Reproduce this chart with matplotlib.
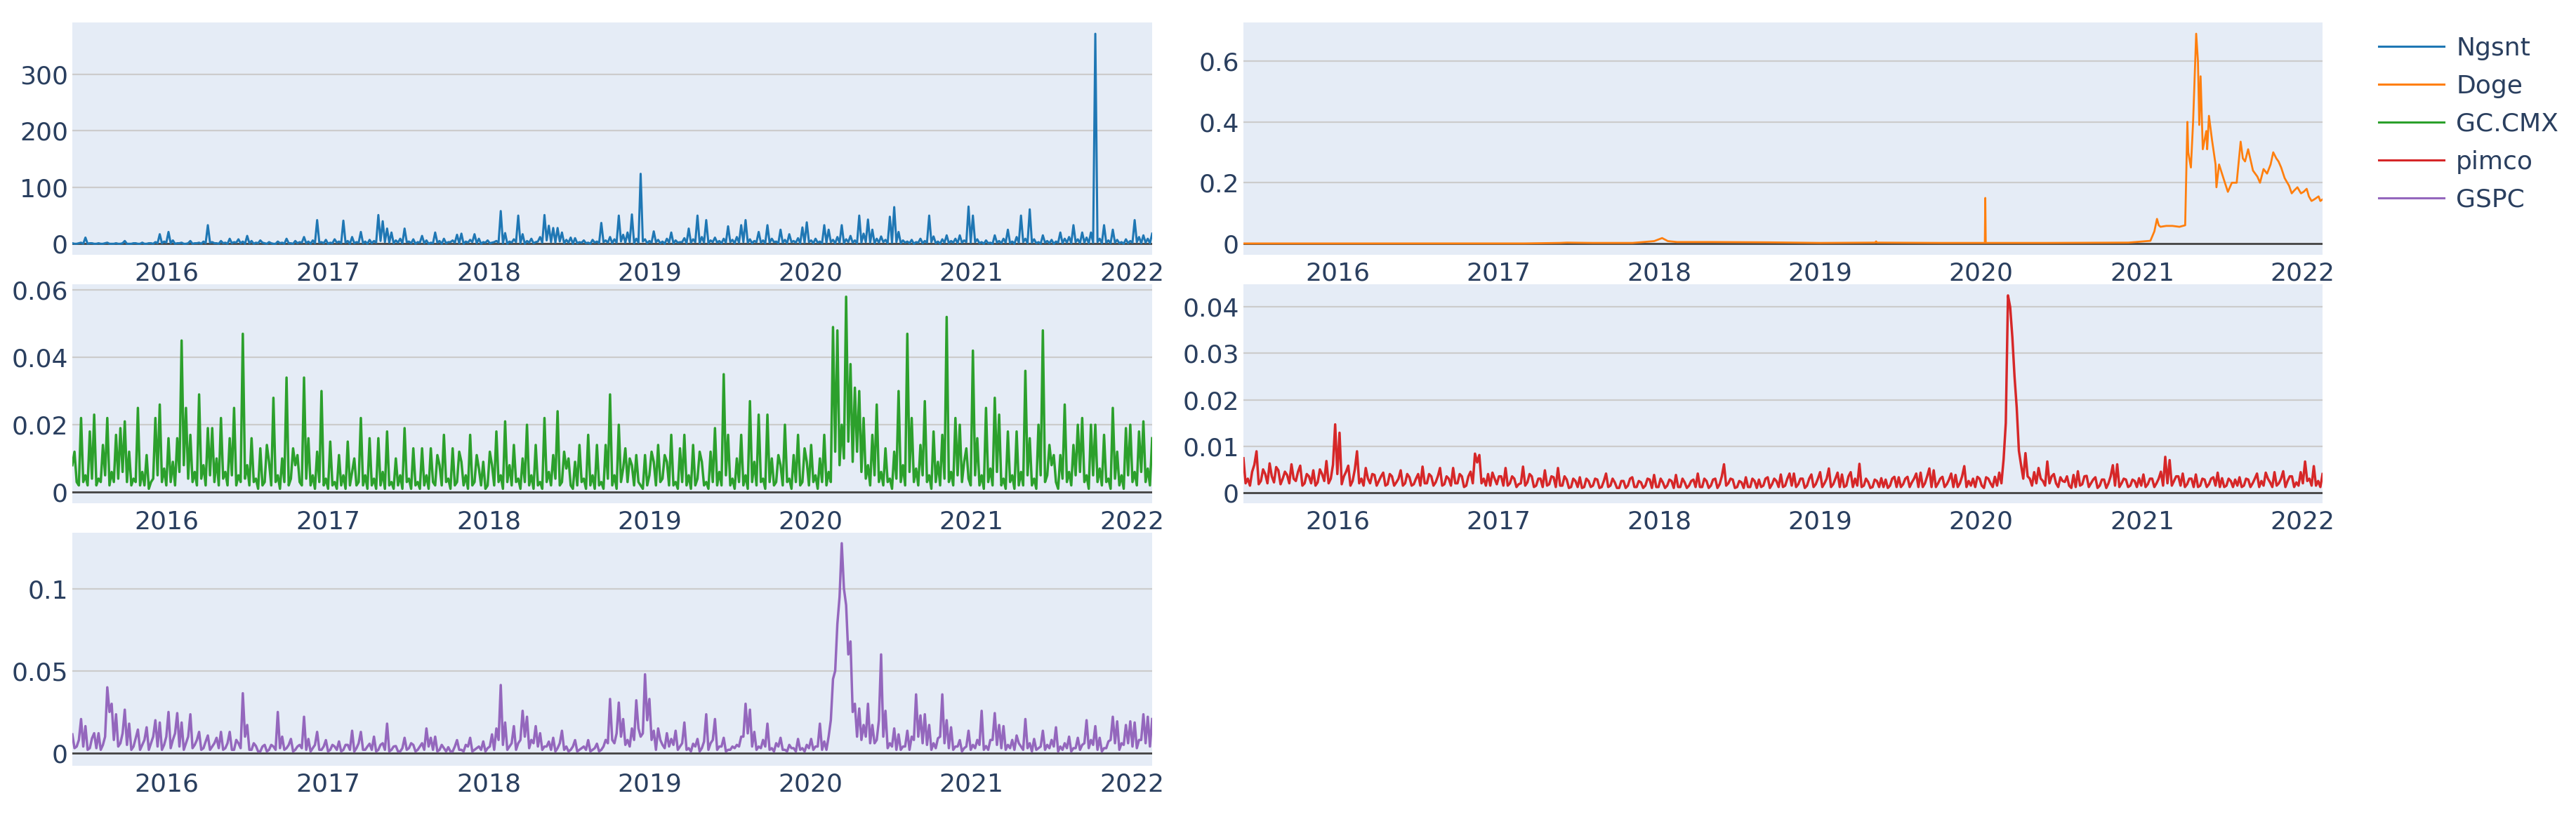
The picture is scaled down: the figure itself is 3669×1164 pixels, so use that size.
import matplotlib
matplotlib.use("Agg")
import matplotlib.pyplot as plt
import matplotlib.dates as mdates
from matplotlib.lines import Line2D
from matplotlib.ticker import FuncFormatter
import pandas as pd

# series: main points on a ~10 day grid,
# plus the in-between readings (~5 days later) in the *_mid lists
start, end = "2015-06-01", "2022-02-15"

ngsnt = [
    1, 0, 2, 11, 1, 0, 1, 0, 2, 0, 1, 0, 5, 0, 1, 0, 2, 0, 1, 3,
    17, 4, 21, 6, 1, 2, 0, 5, 1, 2, 4, 33, 3, 1, 5, 2, 9, 3, 8, 4,
    14, 5, 2, 6, 1, 3, 0, 4, 2, 9, 1, 5, 3, 12, 4, 6, 42, 3, 7, 2,
    8, 4, 41, 5, 12, 3, 21, 4, 7, 5, 51, 40, 27, 20, 6, 9, 27, 4, 8, 3,
    14, 6, 2, 20, 5, 9, 3, 6, 16, 18, 4, 7, 17, 9, 3, 6, 2, 5, 58, 19,
    4, 8, 50, 17, 5, 9, 3, 12, 51, 32, 28, 28, 20, 7, 11, 10, 3, 6, 2, 7,
    4, 37, 6, 12, 8, 50, 16, 20, 52, 9, 124, 8, 5, 22, 7, 4, 9, 20, 6, 3,
    10, 27, 8, 50, 12, 42, 6, 11, 5, 9, 31, 7, 12, 33, 42, 8, 5, 21, 6, 33,
    9, 4, 25, 7, 17, 5, 10, 29, 38, 6, 9, 4, 33, 25, 7, 12, 33, 8, 14, 6,
    50, 18, 43, 25, 9, 13, 7, 48, 65, 21, 6, 4, 7, 3, 9, 5, 50, 13, 4, 8,
    15, 5, 9, 15, 6, 66, 50, 8, 3, 6, 2, 15, 5, 9, 25, 4, 12, 50, 9, 61,
    8, 3, 15, 5, 7, 4, 20, 9, 12, 33, 8, 20, 11, 20, 372, 9, 33, 6, 25, 7,
    3, 8, 5, 42, 12, 15, 9, 18,
]
ngsnt_mid = [
    0, 1, 0, 0, 1, 0, 0, 1, 0, 0, 0, 1, 0, 0, 1, 0, 0, 1, 0, 1,
    1, 2, 1, 0, 1, 0, 1, 0, 1, 0, 1, 2, 1, 0, 1, 0, 1, 2, 1, 0,
    1, 0, 1, 2, 0, 1, 0, 1, 0, 1, 0, 1, 2, 1, 0, 1, 2, 1, 0, 1,
    2, 1, 2, 0, 1, 2, 1, 0, 1, 2, 5, 3, 2, 1, 2, 1, 3, 1, 0, 2,
    1, 0, 1, 2, 0, 1, 3, 2, 1, 0, 2, 3, 1, 0, 2, 1, 3, 2, 1, 0,
    2, 3, 1, 0, 2, 1, 4, 2, 6, 3, 2, 4, 1, 2, 0, 1, 2, 1, 0, 2,
    1, 3, 2, 1, 2, 4, 2, 3, 1, 2, 4, 1, 2, 3, 1, 0, 2, 1, 2, 3,
    1, 2, 3, 1, 2, 1, 3, 2, 1, 2, 3, 1, 2, 3, 2, 1, 3, 2, 1, 2,
    3, 1, 2, 1, 3, 2, 1, 2, 3, 1, 2, 1, 2, 3, 1, 2, 1, 3, 2, 1,
    2, 3, 2, 1, 2, 3, 1, 2, 3, 1, 2, 1, 0, 2, 1, 2, 3, 1, 0, 2,
    1, 2, 1, 2, 3, 2, 3, 1, 0, 1, 0, 2, 1, 2, 1, 0, 2, 3, 1, 2,
    1, 0, 2, 1, 0, 2, 1, 2, 1, 3, 1, 2, 1, 2, 3, 1, 2, 1, 2, 1,
    0, 1, 2, 3, 1, 2, 1,
]

gc_cmx = [
    0.008, 0.003, 0.022, 0.005, 0.018, 0.023, 0.004, 0.014, 0.022, 0.006,
    0.017, 0.019, 0.021, 0.012, 0.004, 0.025, 0.006, 0.011, 0.003, 0.022,
    0.026, 0.007, 0.016, 0.009, 0.016, 0.045, 0.025, 0.017, 0.006, 0.029,
    0.008, 0.019, 0.019, 0.010, 0.022, 0.006, 0.016, 0.025, 0.005, 0.047,
    0.008, 0.016, 0.004, 0.013, 0.003, 0.009, 0.028, 0.005, 0.010, 0.034,
    0.004, 0.008, 0.003, 0.034, 0.016, 0.005, 0.012, 0.030, 0.004, 0.015,
    0.003, 0.011, 0.005, 0.015, 0.006, 0.002, 0.022, 0.005, 0.016, 0.004,
    0.016, 0.006, 0.018, 0.003, 0.010, 0.005, 0.019, 0.004, 0.013, 0.003,
    0.013, 0.005, 0.013, 0.002, 0.008, 0.017, 0.004, 0.013, 0.003, 0.009,
    0.005, 0.017, 0.003, 0.007, 0.009, 0.002, 0.008, 0.018, 0.005, 0.021,
    0.008, 0.014, 0.004, 0.010, 0.020, 0.005, 0.014, 0.003, 0.022, 0.006,
    0.011, 0.024, 0.003, 0.007, 0.002, 0.009, 0.014, 0.004, 0.017, 0.005,
    0.014, 0.003, 0.014, 0.029, 0.005, 0.020, 0.007, 0.003, 0.008, 0.011,
    0.002, 0.011, 0.005, 0.009, 0.014, 0.004, 0.009, 0.017, 0.003, 0.013,
    0.017, 0.005, 0.014, 0.004, 0.009, 0.003, 0.012, 0.019, 0.006, 0.035,
    0.017, 0.004, 0.010, 0.017, 0.005, 0.027, 0.009, 0.023, 0.004, 0.023,
    0.010, 0.003, 0.008, 0.020, 0.004, 0.011, 0.017, 0.003, 0.009, 0.014,
    0.005, 0.010, 0.017, 0.006, 0.049, 0.048, 0.020, 0.058, 0.038, 0.031,
    0.030, 0.022, 0.008, 0.017, 0.026, 0.006, 0.013, 0.004, 0.012, 0.030,
    0.008, 0.047, 0.022, 0.007, 0.014, 0.027, 0.005, 0.018, 0.009, 0.017,
    0.052, 0.006, 0.022, 0.020, 0.009, 0.004, 0.042, 0.016, 0.005, 0.025,
    0.007, 0.028, 0.023, 0.004, 0.018, 0.005, 0.018, 0.006, 0.036, 0.016,
    0.004, 0.020, 0.048, 0.005, 0.008, 0.003, 0.011, 0.026, 0.006, 0.014,
    0.020, 0.022, 0.005, 0.020, 0.020, 0.007, 0.017, 0.004, 0.025, 0.012,
    0.005, 0.019, 0.020, 0.006, 0.018, 0.021, 0.007, 0.016,
]
gc_cmx_mid = [
    0.012, 0.002, 0.003, 0.002, 0.004, 0.002, 0.003, 0.005, 0.002, 0.003,
    0.004, 0.006, 0.003, 0.002, 0.003, 0.002, 0.002, 0.001, 0.004, 0.005,
    0.003, 0.002, 0.003, 0.002, 0.006, 0.008, 0.004, 0.003, 0.002, 0.004,
    0.002, 0.005, 0.003, 0.002, 0.004, 0.002, 0.005, 0.002, 0.003, 0.004,
    0.002, 0.003, 0.001, 0.002, 0.014, 0.002, 0.003, 0.001, 0.003, 0.002,
    0.013, 0.011, 0.002, 0.004, 0.002, 0.001, 0.003, 0.002, 0.001, 0.002,
    0.001, 0.002, 0.001, 0.002, 0.010, 0.003, 0.002, 0.001, 0.002, 0.001,
    0.002, 0.001, 0.002, 0.001, 0.002, 0.001, 0.003, 0.001, 0.002, 0.001,
    0.002, 0.001, 0.003, 0.011, 0.002, 0.003, 0.001, 0.002, 0.012, 0.002,
    0.001, 0.002, 0.011, 0.002, 0.001, 0.012, 0.002, 0.003, 0.001, 0.003,
    0.002, 0.003, 0.001, 0.003, 0.002, 0.001, 0.002, 0.001, 0.003, 0.002,
    0.004, 0.002, 0.012, 0.010, 0.001, 0.002, 0.003, 0.001, 0.002, 0.001,
    0.002, 0.001, 0.004, 0.002, 0.001, 0.003, 0.013, 0.010, 0.002, 0.003,
    0.001, 0.002, 0.012, 0.002, 0.003, 0.011, 0.002, 0.002, 0.001, 0.003,
    0.002, 0.001, 0.002, 0.012, 0.002, 0.001, 0.003, 0.002, 0.002, 0.005,
    0.002, 0.001, 0.003, 0.002, 0.001, 0.003, 0.002, 0.003, 0.001, 0.003,
    0.002, 0.011, 0.002, 0.003, 0.001, 0.003, 0.002, 0.013, 0.002, 0.003,
    0.001, 0.003, 0.002, 0.003, 0.012, 0.008, 0.010, 0.015, 0.009, 0.012,
    0.006, 0.004, 0.002, 0.005, 0.003, 0.002, 0.003, 0.001, 0.004, 0.003,
    0.002, 0.006, 0.003, 0.002, 0.005, 0.003, 0.001, 0.003, 0.002, 0.004,
    0.003, 0.002, 0.005, 0.003, 0.013, 0.002, 0.005, 0.002, 0.001, 0.003,
    0.002, 0.006, 0.002, 0.001, 0.003, 0.001, 0.002, 0.002, 0.005, 0.002,
    0.001, 0.005, 0.003, 0.014, 0.011, 0.001, 0.004, 0.003, 0.002, 0.005,
    0.006, 0.003, 0.001, 0.005, 0.003, 0.002, 0.003, 0.001, 0.004, 0.002,
    0.001, 0.005, 0.003, 0.002, 0.006, 0.003, 0.002,
]

pimco = [
    .0074, .0030, .0045, .0089, .0025, .0040, .0063, .0022, .0048, .0030,
    .0038, .0061, .0025, .0058, .0020, .0035, .0048, .0022, .0040, .0068,
    .0030, .0147, .0129, .0035, .0058, .0025, .0089, .0030, .0053, .0020,
    .0038, .0025, .0043, .0018, .0035, .0022, .0048, .0020, .0033, .0018,
    .0040, .0056, .0020, .0035, .0022, .0053, .0018, .0030, .0053, .0020,
    .0035, .0015, .0045, .0084, .0081, .0030, .0040, .0043, .0018, .0035,
    .0053, .0020, .0030, .0018, .0056, .0022, .0035, .0015, .0030, .0048,
    .0018, .0033, .0053, .0015, .0028, .0012, .0025, .0033, .0012, .0025,
    .0015, .0028, .0012, .0041, .0015, .0022, .0010, .0025, .0015, .0033,
    .0012, .0022, .0015, .0028, .0038, .0012, .0022, .0015, .0025, .0038,
    .0012, .0022, .0015, .0028, .0041, .0012, .0025, .0015, .0030, .0018,
    .0061, .0020, .0028, .0012, .0022, .0033, .0012, .0025, .0028, .0015,
    .0033, .0018, .0025, .0039, .0015, .0041, .0041, .0018, .0030, .0015,
    .0039, .0018, .0044, .0020, .0052, .0018, .0043, .0039, .0015, .0044,
    .0030, .0062, .0015, .0023, .0012, .0025, .0031, .0028, .0015, .0034,
    .0033, .0018, .0034, .0022, .0041, .0043, .0020, .0052, .0048, .0020,
    .0034, .0018, .0041, .0038, .0020, .0057, .0025, .0030, .0034, .0015,
    .0033, .0020, .0034, .0043, .0072, .0425, .0335, .0183, .0059, .0085,
    .0030, .0044, .0053, .0025, .0067, .0035, .0020, .0033, .0023, .0015,
    .0038, .0046, .0018, .0036, .0020, .0033, .0015, .0028, .0020, .0059,
    .0061, .0020, .0028, .0015, .0025, .0031, .0039, .0018, .0030, .0020,
    .0045, .0077, .0070, .0025, .0035, .0041, .0018, .0030, .0039, .0015,
    .0028, .0018, .0033, .0043, .0031, .0015, .0025, .0028, .0033, .0015,
    .0028, .0020, .0041, .0025, .0043, .0022, .0044, .0020, .0046, .0025,
    .0035, .0022, .0044, .0067, .0030, .0057, .0025, .0040,
]
pimco_mid = [
    .0020, .0015, .0060, .0018, .0050, .0020, .0035, .0055, .0018, .0045,
    .0020, .0030, .0045, .0015, .0040, .0020, .0015, .0050, .0025, .0020,
    .0060, .0040, .0018, .0045, .0015, .0050, .0020, .0015, .0030, .0040,
    .0015, .0035, .0015, .0040, .0015, .0030, .0015, .0040, .0015, .0030,
    .0015, .0020, .0040, .0015, .0035, .0015, .0035, .0015, .0020, .0040,
    .0012, .0035, .0020, .0065, .0020, .0015, .0015, .0030, .0035, .0015,
    .0015, .0035, .0012, .0020, .0015, .0040, .0012, .0030, .0012, .0015,
    .0035, .0012, .0015, .0035, .0010, .0030, .0012, .0010, .0030, .0012,
    .0030, .0010, .0025, .0012, .0030, .0010, .0025, .0010, .0030, .0012,
    .0025, .0010, .0030, .0010, .0012, .0030, .0010, .0028, .0010, .0012,
    .0030, .0010, .0025, .0012, .0012, .0030, .0010, .0028, .0010, .0035,
    .0015, .0030, .0010, .0025, .0010, .0012, .0030, .0010, .0012, .0030,
    .0010, .0030, .0012, .0012, .0030, .0015, .0012, .0030, .0010, .0030,
    .0012, .0030, .0012, .0030, .0012, .0030, .0012, .0012, .0035, .0012,
    .0015, .0012, .0030, .0010, .0028, .0012, .0012, .0010, .0030, .0012,
    .0012, .0030, .0012, .0030, .0012, .0012, .0035, .0012, .0012, .0030,
    .0012, .0028, .0012, .0012, .0035, .0012, .0015, .0012, .0030, .0010,
    .0030, .0012, .0015, .0020, .0150, .0400, .0250, .0090, .0030, .0035,
    .0015, .0020, .0030, .0015, .0020, .0040, .0012, .0025, .0035, .0010,
    .0012, .0015, .0035, .0012, .0028, .0010, .0028, .0010, .0035, .0015,
    .0012, .0030, .0012, .0028, .0012, .0015, .0012, .0030, .0012, .0030,
    .0015, .0020, .0015, .0035, .0015, .0012, .0030, .0012, .0012, .0030,
    .0012, .0030, .0015, .0012, .0012, .0030, .0012, .0015, .0012, .0030,
    .0012, .0030, .0012, .0015, .0030, .0012, .0015, .0030, .0012, .0035,
    .0012, .0015, .0020, .0025, .0015, .0015, .0012,
]

gspc = [
    .0114, .004, .0207, .0164, .003, .0121, .0121, .005, .040, .030,
    .0236, .006, .0264, .0179, .004, .0143, .005, .0157, .006, .020,
    .0186, .005, .025, .008, .0243, .0186, .006, .0236, .005, .0129,
    .003, .0107, .004, .0093, .0129, .003, .0129, .002, .006, .0364,
    .0171, .002, .0043, .001, .005, .002, .004, .025, .010, .003,
    .0086, .002, .005, .0221, .0086, .003, .0129, .002, .0079, .002,
    .004, .0071, .002, .005, .0136, .003, .0129, .002, .0057, .010,
    .002, .006, .0179, .002, .0043, .001, .0093, .003, .005, .002,
    .006, .015, .0093, .010, .002, .003, .0036, .001, .0079, .002,
    .005, .0093, .002, .004, .0071, .003, .0114, .015, .0414, .0186,
    .004, .0164, .006, .0257, .0221, .008, .0164, .0121, .004, .007,
    .0093, .003, .0136, .004, .002, .0079, .002, .004, .0079, .002,
    .0057, .002, .008, .0329, .006, .0307, .0207, .008, .015, .0321,
    .010, .0479, .0329, .0136, .015, .005, .0121, .0086, .0136, .004,
    .0186, .003, .0057, .0086, .003, .0236, .006, .0207, .004, .0093,
    .002, .004, .005, .010, .030, .0264, .0129, .004, .008, .0179,
    .003, .006, .0093, .002, .005, .003, .0086, .003, .005, .0086,
    .004, .0179, .0071, .010, .045, .0786, .1276, .090, .0679, .030,
    .0271, .0171, .030, .0171, .008, .060, .0257, .006, .015, .0114,
    .004, .0136, .010, .0357, .0229, .0236, .0171, .006, .009, .0357,
    .020, .0157, .004, .0079, .003, .0136, .005, .008, .0257, .0043,
    .008, .0243, .0171, .0164, .005, .008, .0107, .004, .0207, .006,
    .0086, .003, .0136, .005, .008, .0157, .004, .006, .010, .003,
    .0093, .005, .020, .008, .0164, .0093, .003, .0071, .0221, .0193,
    .006, .0171, .0193, .0186, .008, .0236, .0221, .0207,
]
gspc_mid = [
    .003, .008, .004, .002, .009, .003, .002, .010, .025, .008,
    .004, .012, .005, .002, .009, .002, .008, .002, .010, .004,
    .002, .010, .003, .012, .004, .002, .010, .003, .008, .002,
    .007, .002, .006, .003, .002, .006, .002, .008, .003, .010,
    .002, .006, .001, .004, .001, .005, .002, .003, .002, .005,
    .001, .004, .003, .002, .001, .005, .002, .004, .001, .005,
    .002, .001, .005, .002, .001, .006, .002, .004, .002, .001,
    .005, .002, .001, .004, .001, .003, .002, .006, .001, .004,
    .002, .004, .002, .001, .005, .001, .001, .004, .002, .001,
    .004, .001, .003, .002, .001, .004, .002, .008, .005, .002,
    .006, .002, .008, .010, .003, .006, .004, .002, .004, .002,
    .001, .006, .002, .001, .004, .001, .003, .002, .001, .003,
    .001, .004, .006, .008, .012, .010, .005, .004, .008, .015,
    .012, .020, .008, .002, .008, .003, .004, .005, .002, .006,
    .002, .001, .004, .001, .007, .002, .008, .002, .004, .001,
    .002, .003, .004, .010, .012, .004, .002, .003, .004, .002,
    .001, .004, .002, .001, .003, .001, .002, .001, .003, .002,
    .004, .002, .002, .020, .050, .095, .100, .060, .025, .010,
    .008, .010, .006, .006, .020, .010, .003, .004, .002, .002,
    .004, .002, .008, .010, .006, .005, .002, .003, .010, .006,
    .003, .002, .004, .001, .004, .002, .003, .005, .002, .002,
    .008, .005, .003, .002, .003, .002, .006, .002, .003, .001,
    .002, .004, .002, .003, .004, .001, .002, .003, .001, .003,
    .002, .006, .003, .005, .002, .001, .003, .008, .006, .002,
    .005, .006, .004, .003, .008, .006, .004,
]

doge_dates = [
    "2015-06-01", "2016-01-01", "2016-09-01", "2017-03-01", "2017-05-20",
    "2017-06-05", "2017-08-01", "2017-11-01", "2017-12-20", "2018-01-07",
    "2018-01-20", "2018-02-10", "2018-05-01", "2018-09-01", "2019-01-01",
    "2019-05-06", "2019-05-08", "2019-05-10", "2019-10-01", "2020-01-10",
    "2020-01-11", "2020-01-12", "2020-06-01", "2020-12-01", "2021-01-20",
    "2021-01-29", "2021-02-04", "2021-02-08", "2021-02-12", "2021-02-25",
    "2021-03-11", "2021-03-27", "2021-04-09", "2021-04-14", "2021-04-16",
    "2021-04-22", "2021-04-27", "2021-05-04", "2021-05-08", "2021-05-11",
    "2021-05-14", "2021-05-19", "2021-05-27", "2021-05-29", "2021-06-02",
    "2021-06-09", "2021-06-17", "2021-06-19", "2021-06-25", "2021-07-06",
    "2021-07-15", "2021-07-24", "2021-08-04", "2021-08-13", "2021-08-18",
    "2021-08-23", "2021-08-30", "2021-09-10", "2021-09-20", "2021-09-26",
    "2021-10-04", "2021-10-12", "2021-10-20", "2021-10-26", "2021-11-02",
    "2021-11-07", "2021-11-13", "2021-11-21", "2021-12-01", "2021-12-07",
    "2021-12-13", "2021-12-20", "2021-12-28", "2022-01-03", "2022-01-10",
    "2022-01-15", "2022-01-21", "2022-01-27", "2022-02-06", "2022-02-10",
    "2022-02-15",
]
doge = [
    0.0002, 0.0002, 0.0003, 0.0003, 0.002, 0.003, 0.002, 0.002, 0.008, 0.018,
    0.008, 0.005, 0.005, 0.004, 0.002, 0.003, 0.007, 0.003, 0.002, 0.002,
    0.150, 0.002, 0.002, 0.003, 0.009, 0.040, 0.081, 0.060, 0.055, 0.058,
    0.058, 0.055, 0.060, 0.40, 0.30, 0.25, 0.40, 0.69, 0.60, 0.39,
    0.55, 0.31, 0.37, 0.31, 0.42, 0.34, 0.26, 0.185, 0.26, 0.21,
    0.17, 0.20, 0.20, 0.335, 0.28, 0.27, 0.31, 0.24, 0.22, 0.20,
    0.245, 0.23, 0.26, 0.30, 0.28, 0.27, 0.25, 0.215, 0.19, 0.165,
    0.175, 0.185, 0.165, 0.17, 0.18, 0.155, 0.14, 0.145, 0.155, 0.14,
    0.145,
]

labels = ["Ngsnt", "Doge", "GC.CMX", "pimco", "GSPC"]
colors = ["#1f77b4", "#ff7f0e", "#2ca02c", "#d62728", "#9467bd"]


def weave(main, mid):
    # put each in-between reading after its main grid point
    out = []
    for m, h in zip(main, mid):
        out += [m, h]
    out.append(main[-1])
    return pd.date_range(start, end, periods=len(out)), out


W, H = 3669, 1164
fig = plt.figure(figsize=(W / 100, H / 100), dpi=100)

# (x, y), pixel box [left, top, right, bottom], y-limits, y-ticks, line width
panels = [
    (weave(ngsnt, ngsnt_mid), [103, 32, 1641, 363], (-19.5, 392), [0, 100, 200, 300], 2.2),
    ((pd.to_datetime(doge_dates), doge), [1771, 32, 3308, 363], (-0.037, 0.727), [0, 0.2, 0.4, 0.6], 2.0),
    (weave(gc_cmx, gc_cmx_mid), [103, 405, 1641, 717], (-0.0033, 0.0617), [0, 0.02, 0.04, 0.06], 2.5),
    (weave(pimco, pimco_mid), [1771, 405, 3308, 717], (-0.0023, 0.0449), [0, 0.01, 0.02, 0.03, 0.04], 2.5),
    (weave(gspc, gspc_mid), [103, 759, 1641, 1091], (-0.0077, 0.134), [0, 0.05, 0.1], 2.5),
]

text_color = "#2a3f5f"
for ((x, y), box, ylim, yticks, lw), color in zip(panels, colors):
    l, t, r, b = box
    ax = fig.add_axes([l / W, 1 - b / H, (r - l) / W, (b - t) / H])
    ax.set_facecolor("#E5ECF6")
    ax.axhline(0, color="#444444", lw=2, zorder=1.5)
    ax.plot(x, y, color=color, lw=lw, zorder=2)
    ax.set_xlim(pd.Timestamp(start), pd.Timestamp(end))
    ax.set_ylim(*ylim)
    ax.set_yticks(yticks)
    ax.yaxis.set_major_formatter(FuncFormatter(lambda v, p: f"{v:g}"))
    ax.xaxis.set_major_locator(mdates.YearLocator())
    ax.xaxis.set_major_formatter(mdates.DateFormatter("%Y"))
    ax.grid(axis="y", color="#cccccc", lw=1.6)
    ax.set_axisbelow(True)
    for s in ax.spines.values():
        s.set_visible(False)
    ax.tick_params(axis="both", length=0, labelsize=26, labelcolor=text_color)
    ax.tick_params(axis="x", pad=7)
    ax.tick_params(axis="y", pad=4.3)

handles = [Line2D([], [], color=c, lw=2.2) for c in colors]
fig.legend(handles, labels, loc="upper left", bbox_to_anchor=(3388 / W, 1 - 52 / H),
           frameon=False, fontsize=26, handlelength=2.58, handletextpad=0.47,
           labelspacing=0.55, borderpad=0, borderaxespad=0, labelcolor=text_color)

fig.savefig("out.png", dpi=100)
